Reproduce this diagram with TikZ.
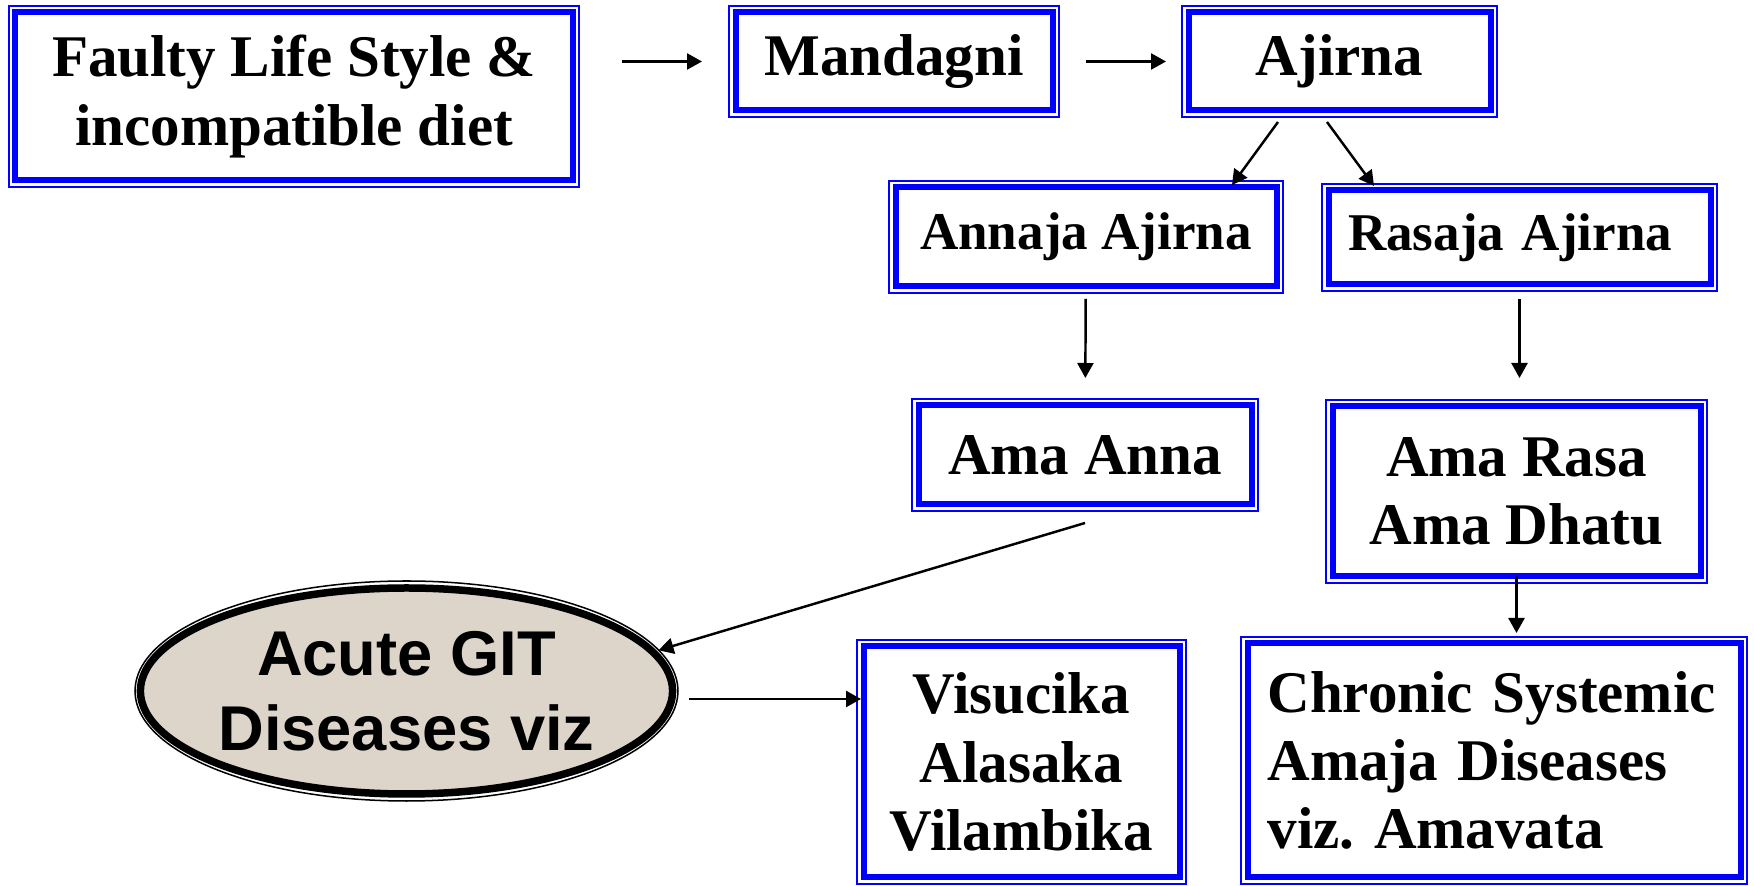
\documentclass[tikz,border=0pt]{standalone}
\usepackage{fontspec}
\setmainfont{Liberation Serif}
\newfontfamily\ellipsefont{Liberation Sans}
\usetikzlibrary{arrows.meta,shapes.geometric}
\definecolor{boxblue}{rgb}{0,0,1}
\definecolor{stonegrey}{RGB}{221,213,201}

\begin{document}
\begin{tikzpicture}[->,>={Triangle[length=0.15cm,width=0.16cm]},line width=0.7pt]
  \tikzstyle{block}=[rectangle, draw=boxblue, line width=0.06cm, outer sep=0pt,
inner sep=0pt, align=center, font=\fontsize{16.8}{19.4}\selectfont\bfseries]
  \tikzstyle{small block}=[block, font=\fontsize{15.1}{17.5}\selectfont\bfseries]
  \tikzstyle{disease}=[ellipse, draw=black, fill=stonegrey, line width=0.075cm,
outer sep=0pt, inner sep=0pt, align=center, minimum width=5.28cm, minimum height=2.06cm,
font=\ellipsefont\fontsize{18}{21.3}\selectfont\bfseries]
  \useasboundingbox (0,0) rectangle (17.54,8.86);

  \node[block, minimum width=5.57cm, minimum height=1.68cm] (faulty) at (2.94,7.895) {Faulty Life Style \&\\incompatible diet};
  \node[block, minimum width=3.17cm, minimum height=0.98cm] (mandagni) at (8.94,8.245) {Mandagni};
  \node[block, minimum width=3.02cm, minimum height=0.98cm] (ajirna) at (13.395,8.245) {Ajirna};
  \node[small block, minimum width=3.81cm, minimum height=0.99cm] (annaja) at (10.86,6.49) {Annaja Ajirna};
  \node[small block, minimum width=3.82cm, minimum height=0.94cm, text width=3.43cm, align=left] (rasaja) at (15.195,6.485) {Rasaja Ajirna};
  \node[block, minimum width=3.33cm, minimum height=0.99cm] (amaanna) at (10.85,4.31) {Ama Anna};
  \node[block, minimum width=3.68cm, minimum height=1.70cm] (amarasa) at (15.165,3.945) {Ama Rasa\\Ama Dhatu};
  \node[block, minimum width=3.16cm, minimum height=2.31cm] (visucika) at (10.215,1.24) {Visucika\\Alasaka\\Vilambika};
  \node[block, minimum width=4.93cm, minimum height=2.34cm, text width=4.53cm, align=left] (chronic) at (14.94,1.255) {Chronic Systemic\\Amaja Diseases\\viz.\ Amavata};
  \node[disease] (acute) at (4.065,1.95) {Acute GIT\\Diseases viz};

  % thin outer lines
  \foreach \n in {faulty,mandagni,ajirna,annaja,rasaja,amaanna,amarasa,visucika,chronic}
    \draw[-, boxblue, line width=0.43pt] ([shift={(-0.065,-0.065)}]\n.south west) rectangle ([shift={(0.065,0.065)}]\n.north east);
  \draw[-, line width=0.43pt] (acute.center) ellipse [x radius=2.715, y radius=1.1];

  \draw[shorten <=0.495cm, shorten >=0.335cm] (faulty.east |- mandagni.west) -- (mandagni.west);
  \draw[shorten <=0.335cm, shorten >=0.225cm] (mandagni) -- (ajirna);
  \draw ([shift={(-0.615,-0.115)}]ajirna.south) -- ([shift={(1.46,0.025)}]annaja.north);
  \draw ([shift={(-0.125,-0.115)}]ajirna.south) -- ([shift={(-1.455,0.045)}]rasaja.north);
  \draw[shorten <=0.125cm, shorten >=0.275cm] (annaja) -- (amaanna);
  \draw[shorten <=0.145cm, shorten >=0.285cm] (rasaja.south) -- (rasaja.south |- amarasa.north);
  \draw[shorten >=0.06cm] ([yshift=-0.185cm]amaanna.south) -- (acute.9);
  \coordinate (vizout) at ([yshift=-0.08cm]acute.east);
  \draw[shorten <=0.165cm, shorten >=0.025cm] (vizout) -- (vizout -| visucika.west);
  \draw[shorten >=0.105cm] (amarasa.south) -- (amarasa.south |- chronic.north);
\end{tikzpicture}
\end{document}
